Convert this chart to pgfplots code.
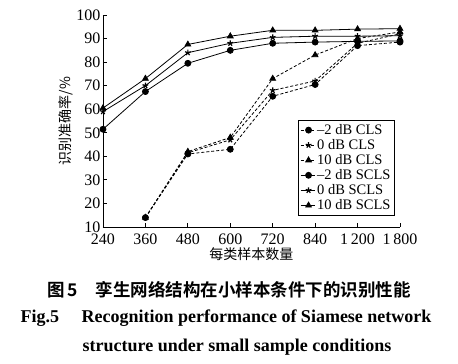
\documentclass[border=0pt]{standalone}
\usepackage{pgfplots}
\pgfplotsset{compat=1.18}
\usepackage{fontspec}
\setmainfont{Liberation Serif}
\newfontfamily\cjk{Noto Sans CJK SC}
\newfontfamily\cjkb{Noto Sans CJK SC}[BoldFont={Noto Sans CJK SC Bold}]
\begin{document}
\begin{tikzpicture}
\begin{axis}[
  scale only axis,
  width=297pt, height=212pt,
  xmin=0, xmax=7, ymin=10, ymax=100,
  axis lines=left,
  axis line style={-, line width=0.8pt},
  tick align=inside,
  xtick={0,1,2,3,4,5,6,7},
  xticklabels={240,360,480,600,720,840,1\,200,1\,800},
  ytick={10,20,30,40,50,60,70,80,90,100},
  tick style={line width=0.8pt, black},
  major tick length=4pt,
  clip=false,
  ticklabel style={font=\fontsize{16}{16}\selectfont},
  xticklabel style={yshift=-6pt, inner ysep=1pt},
  yticklabel style={xshift=1pt, inner ysep=1pt},
  /pgf/number format/assume math mode=true,
  xlabel={\cjk 每类样本数量},
  ylabel={\cjk 识别准确率/\%},
  label style={font=\fontsize{14}{14}\selectfont},
  xlabel style={yshift=2pt},
  ylabel style={yshift=-3pt},
  legend style={at={(0.983,0.505)}, anchor=north east, draw=black, line width=0.8pt,
    font=\fontsize{14.5}{14.5}\selectfont, row sep=-0.5pt, inner sep=2pt,
    cells={anchor=west}},
  legend image post style={line width=0.8pt},
  legend image code/.code={\draw[mark repeat=2,mark phase=2] plot coordinates {(0cm,0cm) (0.28cm,0cm) (0.5cm,0cm)};},
]
% CLS (dashed)
\addplot[black, line width=0.8pt, dash pattern=on 3pt off 2pt, mark=*, mark size=3pt, mark options={solid}]
  coordinates {(1,14) (2,41) (3,43) (4,65.5) (5,70.5) (6,87) (7,88.5)};
\addlegendentry{\textendash2 dB CLS}
\addplot[black, line width=0.8pt, dash pattern=on 3pt off 2pt, mark=star, mark size=3pt, mark options={solid, line width=1.2pt}]
  coordinates {(1,14) (2,41.5) (3,47) (4,68) (5,72) (6,88) (7,92)};
\addlegendentry{0 dB CLS}
\addplot[black, line width=0.8pt, dash pattern=on 3pt off 2pt, mark=triangle*, mark size=3.3pt, mark options={solid}]
  coordinates {(1,14) (2,42) (3,48) (4,73) (5,83) (6,90) (7,92.8)};
\addlegendentry{10 dB CLS}
% SCLS (solid)
\addplot[black, line width=0.8pt, mark=*, mark size=3pt]
  coordinates {(0,51.5) (1,67.5) (2,79.5) (3,85) (4,88) (5,88.5) (6,88.8) (7,89)};
\addlegendentry{\textendash2 dB SCLS}
\addplot[black, line width=0.8pt, mark=star, mark size=3pt, mark options={line width=1.2pt}]
  coordinates {(0,59) (1,70) (2,84) (3,88) (4,90.5) (5,91) (6,91) (7,91.2)};
\addlegendentry{0 dB SCLS}
\addplot[black, line width=0.8pt, mark=triangle*, mark size=3.3pt]
  coordinates {(0,60.5) (1,73) (2,87.5) (3,91) (4,93.5) (5,93.5) (6,94) (7,94.2)};
\addlegendentry{10 dB SCLS}
\end{axis}
\path (-103pt,-137pt) rectangle (355pt,227pt);
\node[font=\cjkb\bfseries\fontsize{17.5}{17.5}\selectfont] at (126pt,-63pt) {图\,5\quad 孪生网络结构在小样本条件下的识别性能};
\node[font=\bfseries\fontsize{18}{18}\selectfont] at (123pt,-91pt) {Fig.5\quad\ Recognition performance of Siamese network};
\node[font=\bfseries\fontsize{18}{18}\selectfont] at (134pt,-120pt) {structure under small sample conditions};
\end{tikzpicture}
\end{document}
